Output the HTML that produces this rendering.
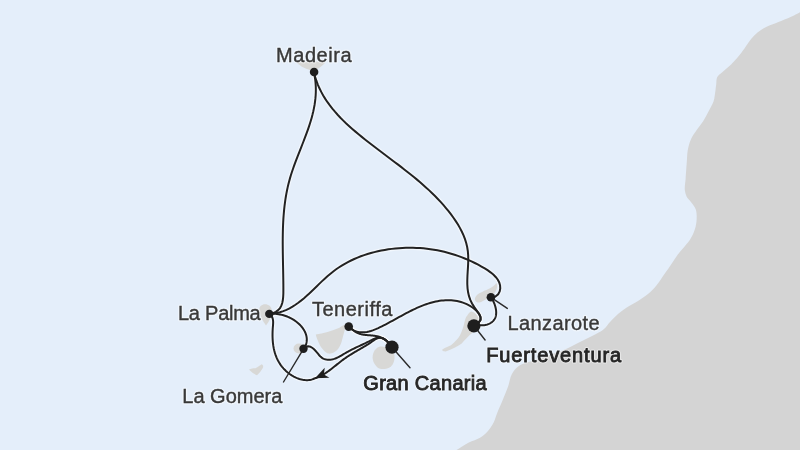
<!DOCTYPE html>
<html><head><meta charset="utf-8">
<style>
html,body{margin:0;padding:0;width:800px;height:450px;overflow:hidden;background:#E4EEFA;}
svg{display:block;filter:blur(0.35px);}
text{font-family:"Liberation Sans",sans-serif;font-size:20px;fill:#393939;stroke:#393939;stroke-width:0.4px;}
text.b{font-weight:400;fill:#262626;stroke:#262626;stroke-width:0.85px;}
g.halo text,g.halo text.b{fill:none;stroke:#fff;stroke-opacity:0.45;stroke-width:3px;stroke-linejoin:round;}
</style></head><body>
<svg width="800" height="450" viewBox="0 0 800 450">
<rect x="0" y="0" width="800" height="450" fill="#E4EEFA"/>
<path fill="#D4D4D4" d="M800.0,12.2 C797.0,13.7 794.4,15.2 791.1,16.7 C787.1,18.5 782.0,20.5 777.8,22.2 C773.9,23.8 770.1,25.0 766.7,26.7 C763.5,28.3 760.4,30.1 757.8,32.2 C755.3,34.2 753.1,36.5 751.1,38.9 C749.1,41.3 747.5,44.1 745.6,46.7 C743.8,49.3 742.2,51.7 740.0,54.4 C737.4,57.6 734.2,61.4 731.1,64.4 C728.2,67.3 724.7,69.9 722.2,72.2 C720.3,74.0 718.3,75.0 717.3,77.0 C716.2,79.1 716.5,82.1 716.2,84.4 C715.9,86.4 715.8,87.8 715.5,90.0 C715.0,93.2 714.7,97.9 713.5,101.5 C712.3,105.0 710.2,108.2 708.5,111.5 C706.8,114.7 705.3,118.0 703.3,121.1 C701.3,124.2 698.8,127.0 696.7,130.0 C694.7,132.9 692.6,135.7 691.1,138.9 C689.6,142.3 688.5,146.1 687.8,150.0 C687.0,154.2 687.1,158.7 686.7,163.3 C686.3,168.3 685.9,174.1 685.6,178.9 C685.3,182.9 684.5,186.8 684.8,190.0 C685.1,192.5 685.7,194.7 686.7,196.7 C687.8,198.7 689.7,200.2 691.1,202.2 C692.6,204.3 694.7,206.5 695.6,208.9 C696.5,211.3 696.7,213.9 696.7,216.7 C696.7,219.8 696.4,223.3 695.6,226.7 C694.7,230.4 693.0,234.4 691.1,237.8 C689.3,241.1 686.7,243.9 684.4,246.7 C682.2,249.4 679.9,251.6 677.8,254.4 C675.5,257.5 673.3,261.2 671.1,264.4 C669.0,267.5 667.2,270.1 665.0,273.3 C662.3,277.2 659.1,282.4 656.0,286.0 C653.4,289.1 650.9,291.5 648.0,294.0 C645.0,296.6 641.5,298.7 638.0,301.0 C634.2,303.4 629.5,305.7 626.0,308.0 C623.0,310.0 620.6,311.8 618.0,314.0 C615.2,316.4 612.4,319.4 610.0,322.0 C607.8,324.4 606.3,327.0 604.0,329.0 C601.7,331.0 598.9,332.4 596.0,334.0 C592.9,335.7 589.3,337.3 586.0,339.0 C582.7,340.7 579.3,342.3 576.0,344.0 C572.7,345.7 569.9,347.3 566.0,349.0 C560.9,351.2 553.8,353.4 548.0,355.5 C542.5,357.4 537.0,359.2 532.0,361.0 C527.5,362.6 522.6,363.3 519.1,365.7 C516.0,367.9 513.6,370.9 511.8,374.2 C509.9,377.7 509.5,382.4 508.1,386.5 C506.7,390.6 504.9,394.5 503.2,398.7 C501.3,403.4 498.8,408.9 497.1,413.3 C495.7,416.9 495.0,420.0 493.4,423.1 C491.8,426.2 489.6,429.2 487.3,431.7 C485.1,434.1 482.8,436.1 480.0,437.8 C476.8,439.8 472.6,440.7 468.9,442.6 C464.8,444.7 460.1,447.9 456.6,450.0 C454.1,451.5 452.2,452.7 450.0,454.0 L800,454 Z"/>
<g fill="#D8D8D6">
<path d="M296.5,62.5 C303,61.5 318,61 325.5,62.5 C322,66 317,70 313,70.5 C307,70 300.5,66.5 296.5,62.5 Z"/>
<path d="M265,304.3 C268.5,304.3 271.5,306.5 271.8,310.5 C272,316 269.5,321 266,325.5 C262.5,320.5 259.3,315 259.2,310 C259.2,306.5 261.8,304.3 265,304.3 Z"/>
<path d="M249,369.5 C251.5,368.5 253.5,368.2 255.5,368.3 C258,367 259.5,365.5 261.8,364.3 C263.2,365 263.5,366.5 262.8,368 C261.5,370.5 259.5,373 257,375.2 C254.5,374.5 251,372 249,369.5 Z"/>
<ellipse cx="299" cy="348.5" rx="5.5" ry="5"/>
<path d="M315.8,334.5 C323,333.5 332,331 339.4,327.8 C342,326 344,324.5 346,324.5 C345,330 343,336 342,340.2 C341,345 338,350 334.9,351.8 C332,353.5 330,353.8 328.7,353.6 C325,352.5 321,348 318.9,342.9 C317.5,340 316.2,337 315.8,334.5 Z"/>
<path d="M380.1,346.6 C386,346 393,349 394.5,355.4 C395,360 393.4,364 391,366.5 C388,369 383,369.5 380.1,368.8 C376,367.5 372.6,362 372.6,357.2 C372.6,352 376,347.5 380.1,346.6 Z"/>
<path d="M496.3,283 C497.5,285 497.5,287.5 496,290.5 C494,295 490,298 484.8,299.9 C482,301.5 479.5,302.8 477.7,302.6 C475.5,302 474.5,300 475,298.1 C476,295 479,293 482.1,291.9 C485,290.5 488,289.5 490.1,288.3 C493,286.8 495,285 496.3,283 Z"/>
<path d="M471.4,311.4 C474,312 477,314 479,318 C480,324 477,330 473.2,331.9 C471,334 468,336 461.7,343.4 C458,346 453,349 445.7,351.4 C443.5,351.5 442,350.5 442.1,349.7 C445,347.5 448,346.5 451,345.2 C455,342 458,338.5 459.9,335.4 C462,331 463.5,327 464.3,323 C465,319.5 466,316.5 467,315.9 C468.5,313.5 469.5,311.5 471.4,311.4 Z"/>
</g>
<g fill="none" stroke="#fff" stroke-opacity="0.5" stroke-width="4.6" stroke-linecap="round">
<path d="M314.00,72.70 L314.66,76.03 L315.17,79.34 L315.53,82.62 L315.76,85.87 L315.85,89.11 L315.81,92.32 L315.66,95.52 L315.39,98.69 L315.01,101.85 L314.54,104.98 L313.96,108.11 L313.31,111.22 L312.57,114.31 L311.76,117.39 L310.88,120.46 L309.94,123.52 L308.94,126.58 L307.90,129.62 L306.81,132.66 L305.69,135.69 L304.54,138.71 L303.37,141.74 L302.19,144.76 L300.99,147.77 L299.80,150.79 L298.61,153.81 L297.43,156.83 L296.26,159.86 L295.13,162.88 L294.02,165.92 L292.95,168.96 L291.92,172.01 L290.94,175.06 L290.02,178.13 L289.17,181.20 L288.38,184.29 L287.65,187.39 L286.99,190.50 L286.38,193.62 L285.83,196.75 L285.34,199.89 L284.90,203.04 L284.51,206.20 L284.16,209.37 L283.86,212.55 L283.60,215.73 L283.38,218.93 L283.20,222.13 L283.05,225.34 L282.93,228.55 L282.85,231.77 L282.79,235.00 L282.75,238.23 L282.73,241.47 L282.74,244.72 L282.76,247.97 L282.79,251.22 L282.84,254.48 L282.89,257.74 L282.95,261.01 L283.02,264.28 L283.08,267.55 L283.15,270.82 L283.21,274.10 L283.26,277.38 L283.31,280.66 L283.35,283.94 L283.37,287.22 L283.37,290.51 L283.34,293.77 L283.18,296.97 L282.85,300.05 L282.25,302.96 L281.33,305.64 L280.00,308.05 L278.19,310.13 L275.84,311.84 L272.87,313.11 L269.20,313.90"/>
<path d="M314.00,72.70 L315.09,76.77 L316.36,80.71 L317.82,84.55 L319.45,88.28 L321.24,91.90 L323.19,95.42 L325.28,98.85 L327.51,102.19 L329.87,105.44 L332.35,108.61 L334.94,111.71 L337.63,114.73 L340.42,117.69 L343.29,120.58 L346.23,123.42 L349.24,126.20 L352.31,128.93 L355.43,131.62 L358.59,134.27 L361.78,136.89 L365.00,139.47 L368.24,142.03 L371.50,144.56 L374.77,147.07 L378.05,149.57 L381.34,152.05 L384.63,154.53 L387.92,157.00 L391.21,159.47 L394.50,161.94 L397.77,164.42 L401.03,166.91 L404.28,169.42 L407.50,171.94 L410.70,174.48 L413.87,177.05 L417.01,179.64 L420.12,182.27 L423.19,184.94 L426.22,187.64 L429.20,190.39 L432.14,193.19 L435.02,196.04 L437.85,198.94 L440.62,201.90 L443.32,204.93 L445.97,208.02 L448.54,211.18 L451.04,214.41 L453.46,217.72 L455.77,221.11 L457.97,224.57 L460.01,228.11 L461.88,231.73 L463.55,235.43 L465.00,239.20 L466.21,243.05 L467.16,246.98 L467.81,250.98 L468.16,255.06 L468.25,259.20 L468.16,263.39 L467.94,267.60 L467.68,271.81 L467.44,276.00 L467.29,280.17 L467.30,284.28 L467.55,288.32 L468.09,292.27 L468.99,296.13 L470.29,299.89 L472.05,303.55 L474.29,307.10 L476.76,310.55 L479.07,313.88 L480.61,317.05 L480.71,320.00 L478.69,322.67 L473.90,325.00"/>
<path d="M269.20,313.90 L272.93,313.60 L276.51,313.02 L279.95,312.19 L283.26,311.11 L286.46,309.81 L289.55,308.31 L292.54,306.63 L295.45,304.77 L298.28,302.77 L301.05,300.64 L303.76,298.40 L306.43,296.06 L309.06,293.65 L311.67,291.19 L314.27,288.69 L316.87,286.17 L319.47,283.65 L322.09,281.14 L324.73,278.68 L327.42,276.27 L330.16,273.93 L332.95,271.69 L335.82,269.55 L338.75,267.53 L341.74,265.61 L344.79,263.80 L347.90,262.10 L351.07,260.50 L354.28,259.00 L357.54,257.61 L360.84,256.31 L364.18,255.11 L367.55,254.01 L370.95,253.01 L374.39,252.10 L377.84,251.27 L381.32,250.54 L384.81,249.90 L388.31,249.35 L391.83,248.88 L395.35,248.50 L398.87,248.19 L402.40,247.97 L405.91,247.83 L409.43,247.78 L412.94,247.80 L416.45,247.91 L419.95,248.10 L423.45,248.37 L426.94,248.73 L430.42,249.17 L433.89,249.70 L437.36,250.32 L440.82,251.03 L444.27,251.82 L447.71,252.70 L451.14,253.67 L454.56,254.73 L457.97,255.88 L461.37,257.13 L464.76,258.46 L468.13,259.89 L471.49,261.41 L474.84,263.02 L478.17,264.73 L481.48,266.54 L484.76,268.44 L487.91,270.45 L490.87,272.58 L493.56,274.83 L495.90,277.22 L497.82,279.76 L499.24,282.45 L500.07,285.30 L500.26,288.32 L499.69,291.46 L498.15,294.34 L495.37,296.48 L491.10,297.40"/>
<path d="M491.10,297.40 L491.38,297.82 L491.66,298.26 L491.94,298.71 L492.22,299.18 L492.49,299.66 L492.76,300.16 L493.02,300.67 L493.28,301.19 L493.53,301.72 L493.78,302.27 L494.01,302.82 L494.24,303.38 L494.46,303.95 L494.67,304.52 L494.87,305.11 L495.05,305.69 L495.23,306.29 L495.39,306.88 L495.54,307.48 L495.68,308.08 L495.80,308.68 L495.91,309.28 L496.00,309.89 L496.07,310.49 L496.13,311.09 L496.17,311.68 L496.19,312.27 L496.19,312.86 L496.17,313.44 L496.13,314.02 L496.07,314.58 L495.99,315.15 L495.89,315.70 L495.76,316.24 L495.61,316.77 L495.43,317.29 L495.23,317.80 L495.00,318.30 L494.74,318.78 L494.46,319.25 L494.16,319.70 L493.83,320.14 L493.47,320.56 L493.10,320.97 L492.70,321.36 L492.29,321.74 L491.85,322.10 L491.40,322.44 L490.93,322.76 L490.44,323.07 L489.94,323.36 L489.42,323.63 L488.90,323.88 L488.35,324.11 L487.80,324.33 L487.24,324.52 L486.67,324.69 L486.08,324.85 L485.50,324.98 L484.90,325.09 L484.30,325.18 L483.70,325.24 L483.09,325.29 L482.48,325.31 L481.87,325.32 L481.26,325.32 L480.65,325.30 L480.04,325.27 L479.44,325.24 L478.84,325.20 L478.25,325.16 L477.67,325.11 L477.09,325.07 L476.53,325.04 L475.97,325.01 L475.43,324.99 L474.91,324.98 L474.40,324.98 L473.90,325.00"/>
<path d="M348.90,326.60 L350.35,328.12 L351.93,329.38 L353.62,330.40 L355.40,331.19 L357.26,331.77 L359.18,332.15 L361.12,332.34 L363.08,332.35 L365.04,332.21 L366.98,331.93 L368.90,331.51 L370.81,330.99 L372.69,330.36 L374.56,329.66 L376.41,328.89 L378.25,328.07 L380.07,327.21 L381.87,326.33 L383.65,325.44 L385.42,324.53 L387.18,323.61 L388.93,322.68 L390.68,321.74 L392.41,320.79 L394.14,319.84 L395.87,318.88 L397.59,317.93 L399.32,316.97 L401.04,316.02 L402.77,315.08 L404.50,314.14 L406.24,313.21 L407.99,312.29 L409.75,311.39 L411.52,310.50 L413.30,309.64 L415.10,308.79 L416.91,307.96 L418.74,307.16 L420.58,306.38 L422.44,305.64 L424.31,304.93 L426.19,304.26 L428.08,303.63 L429.98,303.04 L431.89,302.50 L433.81,302.01 L435.73,301.57 L437.67,301.18 L439.60,300.86 L441.54,300.60 L443.49,300.40 L445.43,300.27 L447.38,300.21 L449.33,300.23 L451.28,300.32 L453.23,300.49 L455.17,300.75 L457.12,301.09 L459.06,301.52 L460.99,302.04 L462.92,302.66 L464.84,303.38 L466.74,304.19 L468.61,305.11 L470.42,306.12 L472.16,307.22 L473.81,308.41 L475.34,309.70 L476.75,311.08 L478.00,312.54 L479.09,314.09 L479.93,315.70 L480.41,317.34 L480.45,318.99 L479.91,320.61 L478.72,322.18 L476.75,323.65 L473.90,325.00"/>
<path d="M348.70,326.60 L349.20,326.97 L349.70,327.36 L350.19,327.75 L350.68,328.15 L351.18,328.55 L351.67,328.96 L352.16,329.37 L352.65,329.77 L353.15,330.17 L353.65,330.57 L354.15,330.95 L354.66,331.32 L355.18,331.68 L355.70,332.02 L356.23,332.34 L356.77,332.64 L357.32,332.92 L357.87,333.18 L358.44,333.41 L359.01,333.62 L359.60,333.82 L360.19,333.99 L360.79,334.15 L361.39,334.30 L362.00,334.43 L362.62,334.54 L363.24,334.64 L363.86,334.74 L364.49,334.82 L365.13,334.90 L365.77,334.96 L366.41,335.03 L367.05,335.08 L367.69,335.13 L368.34,335.18 L368.99,335.23 L369.63,335.28 L370.28,335.33 L370.93,335.38 L371.58,335.44 L372.22,335.50 L372.87,335.57 L373.51,335.64 L374.15,335.72 L374.78,335.81 L375.42,335.91 L376.05,336.02 L376.67,336.15 L377.29,336.28 L377.90,336.43 L378.51,336.59 L379.11,336.76 L379.71,336.95 L380.30,337.15 L380.88,337.36 L381.45,337.59 L382.02,337.84 L382.58,338.10 L383.13,338.38 L383.66,338.68 L384.19,339.00 L384.71,339.33 L385.22,339.68 L385.71,340.05 L386.20,340.44 L386.67,340.86 L387.13,341.29 L387.58,341.74 L388.01,342.22 L388.44,342.71 L388.85,343.22 L389.25,343.74 L389.64,344.27 L390.04,344.79 L390.42,345.31 L390.81,345.81 L391.20,346.30 L391.60,346.76 L392.00,347.20"/>
<path d="M392.00,347.20 L391.31,346.20 L390.55,345.17 L389.72,344.13 L388.83,343.11 L387.88,342.12 L386.88,341.18 L385.83,340.31 L384.74,339.53 L383.62,338.85 L382.46,338.30 L381.28,337.89 L380.08,337.64 L378.87,337.58 L377.64,337.71 L376.42,338.02 L375.19,338.46 L373.98,338.96 L372.77,339.51 L371.57,340.09 L370.37,340.69 L369.18,341.29 L367.99,341.89 L366.81,342.48 L365.62,343.05 L364.44,343.61 L363.26,344.17 L362.08,344.72 L360.90,345.26 L359.73,345.81 L358.55,346.35 L357.38,346.89 L356.21,347.44 L355.05,347.99 L353.88,348.55 L352.72,349.12 L351.56,349.70 L350.41,350.29 L349.26,350.89 L348.11,351.51 L346.96,352.15 L345.82,352.81 L344.68,353.49 L343.54,354.17 L342.40,354.86 L341.25,355.54 L340.10,356.19 L338.93,356.82 L337.76,357.42 L336.57,357.96 L335.36,358.45 L334.13,358.87 L332.89,359.22 L331.61,359.48 L330.32,359.65 L329.00,359.71 L327.68,359.67 L326.37,359.51 L325.11,359.24 L323.90,358.84 L322.76,358.30 L321.72,357.64 L320.77,356.85 L319.87,355.97 L319.02,355.00 L318.17,353.97 L317.31,352.91 L316.42,351.83 L315.48,350.77 L314.51,349.74 L313.50,348.80 L312.46,347.96 L311.40,347.25 L310.31,346.72 L309.20,346.38 L308.07,346.28 L306.94,346.44 L305.80,346.89 L304.65,347.67 L303.50,348.80"/>
<path d="M392.00,347.20 L391.40,346.40 L390.74,345.53 L390.01,344.61 L389.24,343.67 L388.41,342.72 L387.54,341.79 L386.63,340.91 L385.68,340.10 L384.70,339.38 L383.69,338.78 L382.66,338.31 L381.61,338.00 L380.55,337.84 L379.49,337.84 L378.44,337.99 L377.41,338.29 L376.40,338.72 L375.39,339.26 L374.40,339.88 L373.42,340.56 L372.44,341.26 L371.47,341.98 L370.49,342.67 L369.51,343.33 L368.53,343.97 L367.54,344.59 L366.55,345.19 L365.56,345.78 L364.57,346.37 L363.57,346.96 L362.57,347.54 L361.57,348.12 L360.57,348.71 L359.56,349.29 L358.56,349.87 L357.56,350.46 L356.56,351.05 L355.56,351.64 L354.56,352.23 L353.56,352.83 L352.57,353.43 L351.58,354.04 L350.59,354.65 L349.61,355.27 L348.63,355.90 L347.66,356.54 L346.69,357.18 L345.73,357.84 L344.78,358.50 L343.83,359.17 L342.89,359.86 L341.96,360.55 L341.04,361.26 L340.12,361.97 L339.20,362.69 L338.29,363.42 L337.38,364.14 L336.47,364.87 L335.56,365.60 L334.66,366.33 L333.75,367.06 L332.83,367.78 L331.92,368.50 L331.00,369.21 L330.07,369.91 L329.14,370.60 L328.20,371.28 L327.26,371.95 L326.30,372.60 L325.33,373.23 L324.35,373.85 L323.36,374.45 L322.36,375.03 L321.34,375.59 L320.31,376.13 L319.26,376.64 L318.19,377.12 L317.10,377.57 L316.00,378.00"/>
<path d="M315.50,378.00 L314.39,378.55 L313.27,379.01 L312.13,379.39 L310.98,379.69 L309.83,379.92 L308.66,380.07 L307.49,380.15 L306.32,380.16 L305.15,380.11 L303.98,379.99 L302.81,379.82 L301.65,379.59 L300.49,379.30 L299.34,378.96 L298.20,378.57 L297.07,378.14 L295.96,377.66 L294.86,377.13 L293.78,376.58 L292.72,375.98 L291.68,375.35 L290.67,374.69 L289.67,373.99 L288.71,373.27 L287.76,372.52 L286.84,371.74 L285.94,370.93 L285.08,370.09 L284.23,369.23 L283.42,368.35 L282.63,367.44 L281.88,366.51 L281.15,365.56 L280.45,364.59 L279.79,363.60 L279.15,362.60 L278.55,361.57 L277.98,360.53 L277.45,359.48 L276.94,358.41 L276.47,357.33 L276.03,356.23 L275.62,355.13 L275.24,354.01 L274.88,352.88 L274.56,351.74 L274.26,350.59 L273.99,349.43 L273.74,348.26 L273.52,347.09 L273.32,345.90 L273.15,344.72 L273.00,343.52 L272.87,342.32 L272.77,341.12 L272.68,339.91 L272.62,338.70 L272.57,337.49 L272.54,336.27 L272.53,335.06 L272.54,333.84 L272.56,332.62 L272.60,331.41 L272.65,330.19 L272.72,328.98 L272.80,327.77 L272.90,326.57 L273.00,325.37 L273.08,324.18 L273.14,323.00 L273.14,321.85 L273.08,320.72 L272.93,319.62 L272.68,318.55 L272.30,317.52 L271.78,316.54 L271.11,315.60 L270.25,314.72 L269.20,313.90"/>
<path d="M269.20,313.90 L269.92,313.83 L270.65,313.78 L271.38,313.75 L272.12,313.73 L272.86,313.72 L273.60,313.74 L274.35,313.76 L275.11,313.81 L275.86,313.87 L276.62,313.94 L277.37,314.03 L278.13,314.14 L278.89,314.26 L279.65,314.39 L280.41,314.54 L281.17,314.71 L281.93,314.89 L282.68,315.08 L283.43,315.29 L284.18,315.52 L284.93,315.76 L285.67,316.01 L286.41,316.28 L287.15,316.56 L287.88,316.85 L288.60,317.16 L289.32,317.49 L290.03,317.82 L290.73,318.18 L291.43,318.54 L292.11,318.92 L292.79,319.31 L293.46,319.72 L294.12,320.14 L294.77,320.57 L295.41,321.01 L296.04,321.47 L296.66,321.94 L297.27,322.42 L297.86,322.92 L298.44,323.43 L299.01,323.95 L299.56,324.49 L300.10,325.03 L300.63,325.59 L301.14,326.16 L301.63,326.75 L302.11,327.34 L302.57,327.95 L303.01,328.57 L303.43,329.19 L303.83,329.83 L304.21,330.48 L304.57,331.13 L304.91,331.80 L305.22,332.47 L305.50,333.15 L305.76,333.83 L306.00,334.53 L306.20,335.23 L306.38,335.93 L306.52,336.64 L306.64,337.35 L306.73,338.07 L306.78,338.79 L306.80,339.52 L306.78,340.24 L306.73,340.97 L306.65,341.70 L306.53,342.43 L306.36,343.17 L306.16,343.90 L305.93,344.63 L305.64,345.37 L305.32,346.10 L304.96,346.83 L304.55,347.55 L304.10,348.28 L303.60,349.00"/>
</g>
<g fill="none" stroke="#222" stroke-width="2" stroke-linecap="round">
<path d="M314.00,72.70 L314.66,76.03 L315.17,79.34 L315.53,82.62 L315.76,85.87 L315.85,89.11 L315.81,92.32 L315.66,95.52 L315.39,98.69 L315.01,101.85 L314.54,104.98 L313.96,108.11 L313.31,111.22 L312.57,114.31 L311.76,117.39 L310.88,120.46 L309.94,123.52 L308.94,126.58 L307.90,129.62 L306.81,132.66 L305.69,135.69 L304.54,138.71 L303.37,141.74 L302.19,144.76 L300.99,147.77 L299.80,150.79 L298.61,153.81 L297.43,156.83 L296.26,159.86 L295.13,162.88 L294.02,165.92 L292.95,168.96 L291.92,172.01 L290.94,175.06 L290.02,178.13 L289.17,181.20 L288.38,184.29 L287.65,187.39 L286.99,190.50 L286.38,193.62 L285.83,196.75 L285.34,199.89 L284.90,203.04 L284.51,206.20 L284.16,209.37 L283.86,212.55 L283.60,215.73 L283.38,218.93 L283.20,222.13 L283.05,225.34 L282.93,228.55 L282.85,231.77 L282.79,235.00 L282.75,238.23 L282.73,241.47 L282.74,244.72 L282.76,247.97 L282.79,251.22 L282.84,254.48 L282.89,257.74 L282.95,261.01 L283.02,264.28 L283.08,267.55 L283.15,270.82 L283.21,274.10 L283.26,277.38 L283.31,280.66 L283.35,283.94 L283.37,287.22 L283.37,290.51 L283.34,293.77 L283.18,296.97 L282.85,300.05 L282.25,302.96 L281.33,305.64 L280.00,308.05 L278.19,310.13 L275.84,311.84 L272.87,313.11 L269.20,313.90"/>
<path d="M314.00,72.70 L315.09,76.77 L316.36,80.71 L317.82,84.55 L319.45,88.28 L321.24,91.90 L323.19,95.42 L325.28,98.85 L327.51,102.19 L329.87,105.44 L332.35,108.61 L334.94,111.71 L337.63,114.73 L340.42,117.69 L343.29,120.58 L346.23,123.42 L349.24,126.20 L352.31,128.93 L355.43,131.62 L358.59,134.27 L361.78,136.89 L365.00,139.47 L368.24,142.03 L371.50,144.56 L374.77,147.07 L378.05,149.57 L381.34,152.05 L384.63,154.53 L387.92,157.00 L391.21,159.47 L394.50,161.94 L397.77,164.42 L401.03,166.91 L404.28,169.42 L407.50,171.94 L410.70,174.48 L413.87,177.05 L417.01,179.64 L420.12,182.27 L423.19,184.94 L426.22,187.64 L429.20,190.39 L432.14,193.19 L435.02,196.04 L437.85,198.94 L440.62,201.90 L443.32,204.93 L445.97,208.02 L448.54,211.18 L451.04,214.41 L453.46,217.72 L455.77,221.11 L457.97,224.57 L460.01,228.11 L461.88,231.73 L463.55,235.43 L465.00,239.20 L466.21,243.05 L467.16,246.98 L467.81,250.98 L468.16,255.06 L468.25,259.20 L468.16,263.39 L467.94,267.60 L467.68,271.81 L467.44,276.00 L467.29,280.17 L467.30,284.28 L467.55,288.32 L468.09,292.27 L468.99,296.13 L470.29,299.89 L472.05,303.55 L474.29,307.10 L476.76,310.55 L479.07,313.88 L480.61,317.05 L480.71,320.00 L478.69,322.67 L473.90,325.00"/>
<path d="M269.20,313.90 L272.93,313.60 L276.51,313.02 L279.95,312.19 L283.26,311.11 L286.46,309.81 L289.55,308.31 L292.54,306.63 L295.45,304.77 L298.28,302.77 L301.05,300.64 L303.76,298.40 L306.43,296.06 L309.06,293.65 L311.67,291.19 L314.27,288.69 L316.87,286.17 L319.47,283.65 L322.09,281.14 L324.73,278.68 L327.42,276.27 L330.16,273.93 L332.95,271.69 L335.82,269.55 L338.75,267.53 L341.74,265.61 L344.79,263.80 L347.90,262.10 L351.07,260.50 L354.28,259.00 L357.54,257.61 L360.84,256.31 L364.18,255.11 L367.55,254.01 L370.95,253.01 L374.39,252.10 L377.84,251.27 L381.32,250.54 L384.81,249.90 L388.31,249.35 L391.83,248.88 L395.35,248.50 L398.87,248.19 L402.40,247.97 L405.91,247.83 L409.43,247.78 L412.94,247.80 L416.45,247.91 L419.95,248.10 L423.45,248.37 L426.94,248.73 L430.42,249.17 L433.89,249.70 L437.36,250.32 L440.82,251.03 L444.27,251.82 L447.71,252.70 L451.14,253.67 L454.56,254.73 L457.97,255.88 L461.37,257.13 L464.76,258.46 L468.13,259.89 L471.49,261.41 L474.84,263.02 L478.17,264.73 L481.48,266.54 L484.76,268.44 L487.91,270.45 L490.87,272.58 L493.56,274.83 L495.90,277.22 L497.82,279.76 L499.24,282.45 L500.07,285.30 L500.26,288.32 L499.69,291.46 L498.15,294.34 L495.37,296.48 L491.10,297.40"/>
<path d="M491.10,297.40 L491.38,297.82 L491.66,298.26 L491.94,298.71 L492.22,299.18 L492.49,299.66 L492.76,300.16 L493.02,300.67 L493.28,301.19 L493.53,301.72 L493.78,302.27 L494.01,302.82 L494.24,303.38 L494.46,303.95 L494.67,304.52 L494.87,305.11 L495.05,305.69 L495.23,306.29 L495.39,306.88 L495.54,307.48 L495.68,308.08 L495.80,308.68 L495.91,309.28 L496.00,309.89 L496.07,310.49 L496.13,311.09 L496.17,311.68 L496.19,312.27 L496.19,312.86 L496.17,313.44 L496.13,314.02 L496.07,314.58 L495.99,315.15 L495.89,315.70 L495.76,316.24 L495.61,316.77 L495.43,317.29 L495.23,317.80 L495.00,318.30 L494.74,318.78 L494.46,319.25 L494.16,319.70 L493.83,320.14 L493.47,320.56 L493.10,320.97 L492.70,321.36 L492.29,321.74 L491.85,322.10 L491.40,322.44 L490.93,322.76 L490.44,323.07 L489.94,323.36 L489.42,323.63 L488.90,323.88 L488.35,324.11 L487.80,324.33 L487.24,324.52 L486.67,324.69 L486.08,324.85 L485.50,324.98 L484.90,325.09 L484.30,325.18 L483.70,325.24 L483.09,325.29 L482.48,325.31 L481.87,325.32 L481.26,325.32 L480.65,325.30 L480.04,325.27 L479.44,325.24 L478.84,325.20 L478.25,325.16 L477.67,325.11 L477.09,325.07 L476.53,325.04 L475.97,325.01 L475.43,324.99 L474.91,324.98 L474.40,324.98 L473.90,325.00"/>
<path d="M348.90,326.60 L350.35,328.12 L351.93,329.38 L353.62,330.40 L355.40,331.19 L357.26,331.77 L359.18,332.15 L361.12,332.34 L363.08,332.35 L365.04,332.21 L366.98,331.93 L368.90,331.51 L370.81,330.99 L372.69,330.36 L374.56,329.66 L376.41,328.89 L378.25,328.07 L380.07,327.21 L381.87,326.33 L383.65,325.44 L385.42,324.53 L387.18,323.61 L388.93,322.68 L390.68,321.74 L392.41,320.79 L394.14,319.84 L395.87,318.88 L397.59,317.93 L399.32,316.97 L401.04,316.02 L402.77,315.08 L404.50,314.14 L406.24,313.21 L407.99,312.29 L409.75,311.39 L411.52,310.50 L413.30,309.64 L415.10,308.79 L416.91,307.96 L418.74,307.16 L420.58,306.38 L422.44,305.64 L424.31,304.93 L426.19,304.26 L428.08,303.63 L429.98,303.04 L431.89,302.50 L433.81,302.01 L435.73,301.57 L437.67,301.18 L439.60,300.86 L441.54,300.60 L443.49,300.40 L445.43,300.27 L447.38,300.21 L449.33,300.23 L451.28,300.32 L453.23,300.49 L455.17,300.75 L457.12,301.09 L459.06,301.52 L460.99,302.04 L462.92,302.66 L464.84,303.38 L466.74,304.19 L468.61,305.11 L470.42,306.12 L472.16,307.22 L473.81,308.41 L475.34,309.70 L476.75,311.08 L478.00,312.54 L479.09,314.09 L479.93,315.70 L480.41,317.34 L480.45,318.99 L479.91,320.61 L478.72,322.18 L476.75,323.65 L473.90,325.00"/>
<path d="M348.70,326.60 L349.20,326.97 L349.70,327.36 L350.19,327.75 L350.68,328.15 L351.18,328.55 L351.67,328.96 L352.16,329.37 L352.65,329.77 L353.15,330.17 L353.65,330.57 L354.15,330.95 L354.66,331.32 L355.18,331.68 L355.70,332.02 L356.23,332.34 L356.77,332.64 L357.32,332.92 L357.87,333.18 L358.44,333.41 L359.01,333.62 L359.60,333.82 L360.19,333.99 L360.79,334.15 L361.39,334.30 L362.00,334.43 L362.62,334.54 L363.24,334.64 L363.86,334.74 L364.49,334.82 L365.13,334.90 L365.77,334.96 L366.41,335.03 L367.05,335.08 L367.69,335.13 L368.34,335.18 L368.99,335.23 L369.63,335.28 L370.28,335.33 L370.93,335.38 L371.58,335.44 L372.22,335.50 L372.87,335.57 L373.51,335.64 L374.15,335.72 L374.78,335.81 L375.42,335.91 L376.05,336.02 L376.67,336.15 L377.29,336.28 L377.90,336.43 L378.51,336.59 L379.11,336.76 L379.71,336.95 L380.30,337.15 L380.88,337.36 L381.45,337.59 L382.02,337.84 L382.58,338.10 L383.13,338.38 L383.66,338.68 L384.19,339.00 L384.71,339.33 L385.22,339.68 L385.71,340.05 L386.20,340.44 L386.67,340.86 L387.13,341.29 L387.58,341.74 L388.01,342.22 L388.44,342.71 L388.85,343.22 L389.25,343.74 L389.64,344.27 L390.04,344.79 L390.42,345.31 L390.81,345.81 L391.20,346.30 L391.60,346.76 L392.00,347.20"/>
<path d="M392.00,347.20 L391.31,346.20 L390.55,345.17 L389.72,344.13 L388.83,343.11 L387.88,342.12 L386.88,341.18 L385.83,340.31 L384.74,339.53 L383.62,338.85 L382.46,338.30 L381.28,337.89 L380.08,337.64 L378.87,337.58 L377.64,337.71 L376.42,338.02 L375.19,338.46 L373.98,338.96 L372.77,339.51 L371.57,340.09 L370.37,340.69 L369.18,341.29 L367.99,341.89 L366.81,342.48 L365.62,343.05 L364.44,343.61 L363.26,344.17 L362.08,344.72 L360.90,345.26 L359.73,345.81 L358.55,346.35 L357.38,346.89 L356.21,347.44 L355.05,347.99 L353.88,348.55 L352.72,349.12 L351.56,349.70 L350.41,350.29 L349.26,350.89 L348.11,351.51 L346.96,352.15 L345.82,352.81 L344.68,353.49 L343.54,354.17 L342.40,354.86 L341.25,355.54 L340.10,356.19 L338.93,356.82 L337.76,357.42 L336.57,357.96 L335.36,358.45 L334.13,358.87 L332.89,359.22 L331.61,359.48 L330.32,359.65 L329.00,359.71 L327.68,359.67 L326.37,359.51 L325.11,359.24 L323.90,358.84 L322.76,358.30 L321.72,357.64 L320.77,356.85 L319.87,355.97 L319.02,355.00 L318.17,353.97 L317.31,352.91 L316.42,351.83 L315.48,350.77 L314.51,349.74 L313.50,348.80 L312.46,347.96 L311.40,347.25 L310.31,346.72 L309.20,346.38 L308.07,346.28 L306.94,346.44 L305.80,346.89 L304.65,347.67 L303.50,348.80"/>
<path d="M392.00,347.20 L391.40,346.40 L390.74,345.53 L390.01,344.61 L389.24,343.67 L388.41,342.72 L387.54,341.79 L386.63,340.91 L385.68,340.10 L384.70,339.38 L383.69,338.78 L382.66,338.31 L381.61,338.00 L380.55,337.84 L379.49,337.84 L378.44,337.99 L377.41,338.29 L376.40,338.72 L375.39,339.26 L374.40,339.88 L373.42,340.56 L372.44,341.26 L371.47,341.98 L370.49,342.67 L369.51,343.33 L368.53,343.97 L367.54,344.59 L366.55,345.19 L365.56,345.78 L364.57,346.37 L363.57,346.96 L362.57,347.54 L361.57,348.12 L360.57,348.71 L359.56,349.29 L358.56,349.87 L357.56,350.46 L356.56,351.05 L355.56,351.64 L354.56,352.23 L353.56,352.83 L352.57,353.43 L351.58,354.04 L350.59,354.65 L349.61,355.27 L348.63,355.90 L347.66,356.54 L346.69,357.18 L345.73,357.84 L344.78,358.50 L343.83,359.17 L342.89,359.86 L341.96,360.55 L341.04,361.26 L340.12,361.97 L339.20,362.69 L338.29,363.42 L337.38,364.14 L336.47,364.87 L335.56,365.60 L334.66,366.33 L333.75,367.06 L332.83,367.78 L331.92,368.50 L331.00,369.21 L330.07,369.91 L329.14,370.60 L328.20,371.28 L327.26,371.95 L326.30,372.60 L325.33,373.23 L324.35,373.85 L323.36,374.45 L322.36,375.03 L321.34,375.59 L320.31,376.13 L319.26,376.64 L318.19,377.12 L317.10,377.57 L316.00,378.00"/>
<path d="M315.50,378.00 L314.39,378.55 L313.27,379.01 L312.13,379.39 L310.98,379.69 L309.83,379.92 L308.66,380.07 L307.49,380.15 L306.32,380.16 L305.15,380.11 L303.98,379.99 L302.81,379.82 L301.65,379.59 L300.49,379.30 L299.34,378.96 L298.20,378.57 L297.07,378.14 L295.96,377.66 L294.86,377.13 L293.78,376.58 L292.72,375.98 L291.68,375.35 L290.67,374.69 L289.67,373.99 L288.71,373.27 L287.76,372.52 L286.84,371.74 L285.94,370.93 L285.08,370.09 L284.23,369.23 L283.42,368.35 L282.63,367.44 L281.88,366.51 L281.15,365.56 L280.45,364.59 L279.79,363.60 L279.15,362.60 L278.55,361.57 L277.98,360.53 L277.45,359.48 L276.94,358.41 L276.47,357.33 L276.03,356.23 L275.62,355.13 L275.24,354.01 L274.88,352.88 L274.56,351.74 L274.26,350.59 L273.99,349.43 L273.74,348.26 L273.52,347.09 L273.32,345.90 L273.15,344.72 L273.00,343.52 L272.87,342.32 L272.77,341.12 L272.68,339.91 L272.62,338.70 L272.57,337.49 L272.54,336.27 L272.53,335.06 L272.54,333.84 L272.56,332.62 L272.60,331.41 L272.65,330.19 L272.72,328.98 L272.80,327.77 L272.90,326.57 L273.00,325.37 L273.08,324.18 L273.14,323.00 L273.14,321.85 L273.08,320.72 L272.93,319.62 L272.68,318.55 L272.30,317.52 L271.78,316.54 L271.11,315.60 L270.25,314.72 L269.20,313.90"/>
<path d="M269.20,313.90 L269.92,313.83 L270.65,313.78 L271.38,313.75 L272.12,313.73 L272.86,313.72 L273.60,313.74 L274.35,313.76 L275.11,313.81 L275.86,313.87 L276.62,313.94 L277.37,314.03 L278.13,314.14 L278.89,314.26 L279.65,314.39 L280.41,314.54 L281.17,314.71 L281.93,314.89 L282.68,315.08 L283.43,315.29 L284.18,315.52 L284.93,315.76 L285.67,316.01 L286.41,316.28 L287.15,316.56 L287.88,316.85 L288.60,317.16 L289.32,317.49 L290.03,317.82 L290.73,318.18 L291.43,318.54 L292.11,318.92 L292.79,319.31 L293.46,319.72 L294.12,320.14 L294.77,320.57 L295.41,321.01 L296.04,321.47 L296.66,321.94 L297.27,322.42 L297.86,322.92 L298.44,323.43 L299.01,323.95 L299.56,324.49 L300.10,325.03 L300.63,325.59 L301.14,326.16 L301.63,326.75 L302.11,327.34 L302.57,327.95 L303.01,328.57 L303.43,329.19 L303.83,329.83 L304.21,330.48 L304.57,331.13 L304.91,331.80 L305.22,332.47 L305.50,333.15 L305.76,333.83 L306.00,334.53 L306.20,335.23 L306.38,335.93 L306.52,336.64 L306.64,337.35 L306.73,338.07 L306.78,338.79 L306.80,339.52 L306.78,340.24 L306.73,340.97 L306.65,341.70 L306.53,342.43 L306.36,343.17 L306.16,343.90 L305.93,344.63 L305.64,345.37 L305.32,346.10 L304.96,346.83 L304.55,347.55 L304.10,348.28 L303.60,349.00"/>
</g>
<g stroke="#2a2a2a" stroke-width="1.4" fill="none" stroke-linecap="round">
<line x1="490.9" y1="297.3" x2="507.3" y2="308.4"/>
<line x1="473.9" y1="325.8" x2="485.1" y2="340"/>
<line x1="392" y1="347.2" x2="410" y2="367.7"/>
<line x1="303.5" y1="348.8" x2="283.5" y2="382"/>
</g>
<path fill="#1e1e1e" d="M315,378.3 L324.7,367.8 L323.9,374.4 L329.4,377.8 Z"/>
<g fill="#1e1e1e">
<circle cx="314.1" cy="72" r="4.3"/>
<circle cx="269.3" cy="313.9" r="4.2"/>
<circle cx="303.5" cy="348.8" r="4.2"/>
<circle cx="348.7" cy="326.6" r="4.3"/>
<circle cx="392" cy="347.2" r="6.6"/>
<circle cx="490.9" cy="297.3" r="4.3"/>
<circle cx="473.9" cy="325.8" r="6.6"/>
</g>
<g class="halo">
<text x="276" y="62" letter-spacing="0.55">Madeira</text>
<text x="178" y="319.5" letter-spacing="-0.25">La Palma</text>
<text x="182.3" y="403">La Gomera</text>
<text x="312" y="315.6" letter-spacing="0.5">Teneriffa</text>
<text x="507.5" y="329.8" letter-spacing="0.4">Lanzarote</text>
<text class="b" x="363.3" y="389.5" letter-spacing="0.3">Gran Canaria</text>
<text class="b" x="486.2" y="361.6" letter-spacing="0.87">Fuerteventura</text>
</g>
<g class="lbl">
<text x="276" y="62" letter-spacing="0.55">Madeira</text>
<text x="178" y="319.5" letter-spacing="-0.25">La Palma</text>
<text x="182.3" y="403">La Gomera</text>
<text x="312" y="315.6" letter-spacing="0.5">Teneriffa</text>
<text x="507.5" y="329.8" letter-spacing="0.4">Lanzarote</text>
<text class="b" x="363.3" y="389.5" letter-spacing="0.3">Gran Canaria</text>
<text class="b" x="486.2" y="361.6" letter-spacing="0.87">Fuerteventura</text>
</g>
</svg>
</body></html>
